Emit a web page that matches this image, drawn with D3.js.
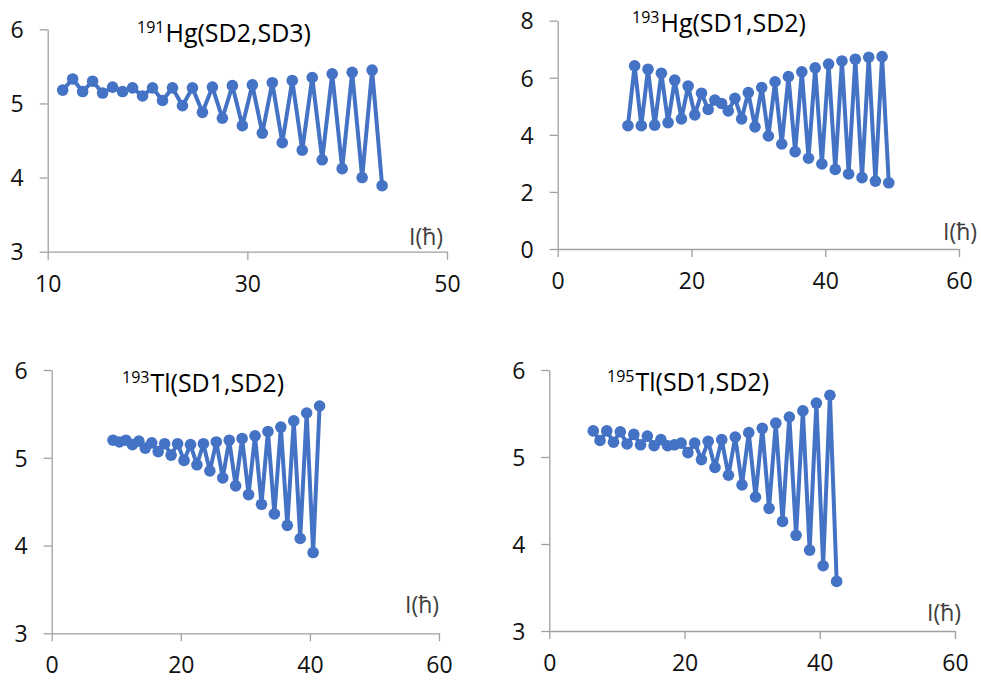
<!DOCTYPE html>
<html>
<head>
<meta charset="utf-8">
<script src="https://cdn.jsdelivr.net/npm/d3@7"></script>
<style>
  body { margin: 0; background: #fff; }
  text { font-family: "Open Sans", sans-serif; }
</style>
</head>
<body>
<svg id="chart" width="981" height="681"></svg>
<script>
// spins I (hbar) and values for each band pair
const spinsHg191 = [11.5, 12.5, 13.5, 14.5, 15.5, 16.5, 17.5, 18.5, 19.5, 20.5, 21.5,
  22.5, 23.5, 24.5, 25.5, 26.5, 27.5, 28.5, 29.5, 30.5, 31.5, 32.5, 33.5, 34.5, 35.5,
  36.5, 37.5, 38.5, 39.5, 40.5, 41.5, 42.5, 43.5];
const valuesHg191 = [5.18, 5.33, 5.16, 5.30, 5.14, 5.22, 5.16, 5.21, 5.10, 5.21, 5.04,
  5.21, 4.97, 5.21, 4.88, 5.22, 4.80, 5.24, 4.70, 5.25, 4.60, 5.28, 4.47, 5.31, 4.37,
  5.35, 4.24, 5.40, 4.12, 5.42, 4.00, 5.45, 3.89];

const spinsHg193 = [10.5, 11.5, 12.5, 13.5, 14.5, 15.5, 16.5, 17.5, 18.5, 19.5, 20.5,
  21.5, 22.5, 23.5, 24.5, 25.5, 26.5, 27.5, 28.5, 29.5, 30.5, 31.5, 32.5, 33.5, 34.5,
  35.5, 36.5, 37.5, 38.5, 39.5, 40.5, 41.5, 42.5, 43.5, 44.5, 45.5, 46.5, 47.5, 48.5, 49.5];
const valuesHg193 = [4.32, 6.42, 4.32, 6.30, 4.34, 6.16, 4.43, 5.92, 4.56, 5.71, 4.70,
  5.46, 4.89, 5.22, 5.10, 4.84, 5.28, 4.56, 5.48, 4.28, 5.66, 3.96, 5.86, 3.68, 6.04,
  3.41, 6.21, 3.18, 6.35, 2.98, 6.48, 2.79, 6.59, 2.63, 6.65, 2.50, 6.72, 2.38, 6.74, 2.32];

const spinsTl193 = [9.5, 10.5, 11.5, 12.5, 13.5, 14.5, 15.5, 16.5, 17.5, 18.5, 19.5,
  20.5, 21.5, 22.5, 23.5, 24.5, 25.5, 26.5, 27.5, 28.5, 29.5, 30.5, 31.5, 32.5, 33.5,
  34.5, 35.5, 36.5, 37.5, 38.5, 39.5, 40.5, 41.5];
const valuesTl193 = [5.20, 5.18, 5.20, 5.15, 5.19, 5.11, 5.17, 5.07, 5.16, 5.03, 5.16,
  4.97, 5.15, 4.92, 5.16, 4.85, 5.18, 4.77, 5.20, 4.68, 5.22, 4.58, 5.25, 4.47, 5.30,
  4.36, 5.35, 4.23, 5.42, 4.08, 5.51, 3.92, 5.59];

const spinsTl195 = [6.5, 7.5, 8.5, 9.5, 10.5, 11.5, 12.5, 13.5, 14.5, 15.5, 16.5, 17.5,
  18.5, 19.5, 20.5, 21.5, 22.5, 23.5, 24.5, 25.5, 26.5, 27.5, 28.5, 29.5, 30.5, 31.5,
  32.5, 33.5, 34.5, 35.5, 36.5, 37.5, 38.5, 39.5, 40.5, 41.5, 42.5];
const valuesTl195 = [5.30, 5.19, 5.30, 5.17, 5.29, 5.15, 5.26, 5.14, 5.24, 5.13, 5.20,
  5.13, 5.14, 5.16, 5.05, 5.16, 4.97, 5.18, 4.88, 5.20, 4.79, 5.23, 4.68, 5.28, 4.54,
  5.33, 4.41, 5.39, 4.26, 5.46, 4.10, 5.53, 3.93, 5.62, 3.75, 5.71, 3.57];

const titleMass = ["191", "193", "193", "195"];
const titleName = ["Hg(SD2,SD3)", "Hg(SD1,SD2)", "Tl(SD1,SD2)", "Tl(SD1,SD2)"];
const xDomains = [[10, 50], [0, 60], [0, 60], [0, 60]];
const yDomains = [[3, 6], [0, 8], [3, 6], [3, 6]];
const xTickValues = [[10, 30, 50], [0, 20, 40, 60], [0, 20, 40, 60], [0, 20, 40, 60]];
const yTickValues = [[3, 4, 5, 6], [0, 2, 4, 6, 8], [3, 4, 5, 6], [3, 4, 5, 6]];
const axisLabel = "I(ħ)";

const series = [
  { spins: spinsHg191, values: valuesHg191 },
  { spins: spinsHg193, values: valuesHg193 },
  { spins: spinsTl193, values: valuesTl193 },
  { spins: spinsTl195, values: valuesTl195 },
];

// panel boxes (pixel frame of each plot) plus title / axis-label anchors
const panels = [
  { left: 47.7, right: 447, top: 29.3, bottom: 251.7, titleX: 137, titleY: 42, labelX: 409, labelY: 245 },
  { left: 557.7, right: 959, top: 20.7, bottom: 249, titleX: 632, titleY: 32, labelX: 943, labelY: 240 },
  { left: 51.7, right: 439, top: 370, bottom: 633.3, titleX: 122, titleY: 392, labelX: 405, labelY: 613 },
  { left: 549.3, right: 955, top: 370, bottom: 631, titleX: 607, titleY: 391, labelX: 927, labelY: 621 },
];

const blue = "#4472C4";
const axisGrey = "#a0a0a0";
const tickSize = 8;

const svg = d3.select("#chart");

panels.forEach((p, i) => {
  const x = d3.scaleLinear().domain(xDomains[i]).range([p.left, p.right]);
  const y = d3.scaleLinear().domain(yDomains[i]).range([p.bottom, p.top]);
  const g = svg.append("g").attr("class", `panel-${i}`);

  // x axis
  const xAxis = g.append("g")
    .attr("transform", `translate(0, ${p.bottom})`)
    .call(d3.axisBottom(x).tickValues(xTickValues[i]).tickFormat(d3.format("d"))
      .tickSize(tickSize).tickPadding(13).tickSizeOuter(0));
  // y axis
  const yAxis = g.append("g")
    .attr("transform", `translate(${p.left}, 0)`)
    .call(d3.axisLeft(y).tickValues(yTickValues[i]).tickFormat(d3.format("d"))
      .tickSize(tickSize).tickPadding(16).tickSizeOuter(0));

  [xAxis, yAxis].forEach((ax) => {
    ax.select(".domain").attr("stroke", axisGrey).attr("stroke-width", 1.3);
    ax.selectAll(".tick line").attr("stroke", axisGrey).attr("stroke-width", 1.3);
    ax.selectAll(".tick text")
      .attr("fill", "#111")
      .attr("font-size", 23)
      .attr("font-family", "Open Sans, sans-serif");
  });
  yAxis.selectAll(".tick text").attr("dy", "0.36em");
  xAxis.selectAll(".tick text").attr("dy", "0.82em");

  // line + markers
  const pts = series[i].spins.map((s, k) => [s, series[i].values[k]]);
  g.append("path")
    .datum(pts)
    .attr("fill", "none")
    .attr("stroke", blue)
    .attr("stroke-width", 4)
    .attr("stroke-linejoin", "round")
    .attr("d", d3.line().x((d) => x(d[0])).y((d) => y(d[1])));
  g.append("g")
    .selectAll("circle")
    .data(pts)
    .join("circle")
    .attr("cx", (d) => x(d[0]))
    .attr("cy", (d) => y(d[1]))
    .attr("r", 5.8)
    .attr("fill", blue);

  // title with superscript mass number
  const t = g.append("text")
    .attr("x", p.titleX)
    .attr("y", p.titleY)
    .attr("fill", "#000")
    .attr("font-size", 25);
  t.append("tspan").attr("font-size", 16).attr("dy", -9).text(titleMass[i]);
  t.append("tspan").attr("dy", 9).attr("dx", 1).text(titleName[i]);

  // axis label
  g.append("text")
    .attr("x", p.labelX)
    .attr("y", p.labelY)
    .attr("fill", "#404040")
    .attr("font-size", 23)
    .text(axisLabel);
});
</script>
</body>
</html>
